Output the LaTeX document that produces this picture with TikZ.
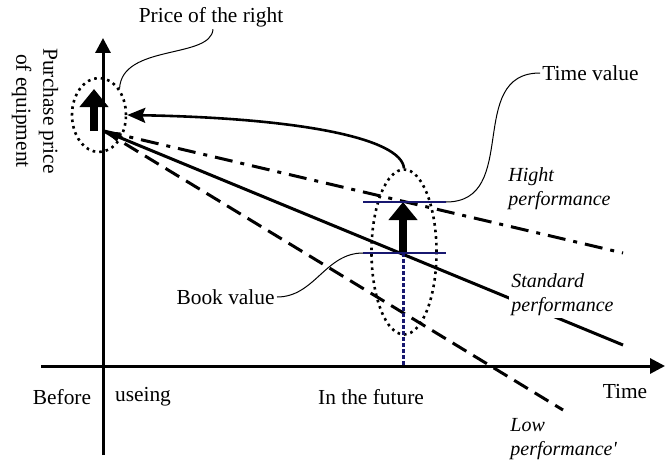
\documentclass[tikz,border=0pt]{standalone}
\usepackage{fontspec}
\setmainfont{Liberation Serif}
\usetikzlibrary{arrows.meta,positioning,shapes.geometric}
\definecolor{bvnavy}{RGB}{24,24,112}
\tikzset{
  bvaxis/.style={line width=1.5pt, -{Triangle[length=7.5pt,width=7.5pt]}},
  bvring/.style={draw, ellipse, line width=1.3pt, dash pattern=on 1.3pt off 2pt, inner sep=0pt},
  bvbig/.style={line width=4pt, -{Triangle[length=9pt,width=14pt]}},
  bvcurve/.style={line width=1.3pt, -{Stealth[length=9pt,width=7.5pt,inset=1.5pt]}},
  bvstd/.style={line width=1.5pt, -{Triangle[length=8pt,width=4.5pt]}},
  bvhigh/.style={line width=1.5pt, dash pattern=on 9pt off 4pt on 2pt off 4pt},
  bvlow/.style={line width=1.5pt, dash pattern=on 8pt off 4pt},
  bvmark/.style={draw=bvnavy, line width=1.3pt},
  bvdrop/.style={draw=bvnavy, line width=1.5pt, dash pattern=on 2pt off 1pt},
  bvlead/.style={line width=0.5pt},
  bvtext/.style={inner sep=1pt},
  bvcase/.style={align=left, font=\itshape, fill=white, inner sep=1pt}
}
\begin{document}
\begin{tikzpicture}[x=0.5pt, y=-0.5pt, font=\fontsize{10.7}{13.5}\selectfont]
  \useasboundingbox (0,0) rectangle (672,465);
  \coordinate (o) at (103,366);
  \coordinate (s) at (104,131);
  \coordinate (stdend) at (623,345);
  \coordinate (highend) at (623,253);
  \coordinate (lowend) at (563,410);
  \coordinate (bookpt) at (403,253);
  \coordinate (tvl) at (363,202);
  \coordinate (tvr) at (446,202);
  \coordinate (bvl) at (363,253);
  \coordinate (bvr) at (446,253);
  \draw[bvaxis] (41,366) -- (665,366);
  \draw[bvaxis] (103,455) -- (103,38);
  \draw[bvhigh] (s) -- (highend);
  \draw[bvlow] (s) -- (lowend);
  \draw[bvstd] (stdend) -- (s);
  \node[bvring, minimum width=27pt, minimum height=37pt] (lring) at (99,115) {};
  \node[bvring, minimum width=32.5pt, minimum height=82.5pt] (cring) at (404,252) {};
  \draw[bvbig] (94,131) -- (94,89);
  \draw[bvdrop] (bookpt) -- (bookpt |- o);
  \draw[bvbig] (bookpt) -- (403,202);
  \draw[bvmark] (tvl) -- (tvr);
  \draw[bvmark] (bvl) -- (bvr);
  \draw[bvcurve] (cring.north) .. controls +(-3,-30) and +(172,3) .. (lring.east);
  \node[bvtext] (price) at (211,17) {Price of the right};
  \node[bvtext, anchor=west] (timeval) at (540,73) {Time value};
  \node[bvtext, anchor=east] (book) at (277,297) {Book value};
  \node[bvcase, anchor=west] (high) at (506,189) {Hight\\performance};
  \node[bvcase, anchor=west] (std) at (509,295) {Standard\\performance};
  \node[bvcase, anchor=west] (low) at (508,439) {Low\\performance\textquotesingle};
  \node[rotate=-90, align=center, inner sep=1pt] (ylab) at (35,111) {Purchase price\\of equipment};
  \node[bvtext] (time) at (625,392) {Time};
  \node[bvtext] (before) at (62,397) {Before};
  \node[bvtext] (useing) at (143,397) {useing};
  \node[bvtext] (future) at (371,397) {In the future};
  \draw[bvlead] ([xshift=1pt]price.south) .. controls +(-2,30) and +(2,-45) .. (lring.52);
  \draw[bvlead] (timeval.west) to[out=180, in=0, looseness=1.2] (tvr);
  \draw[bvlead] (book.east) to[out=0, in=180] (bvl);
\end{tikzpicture}
\end{document}
